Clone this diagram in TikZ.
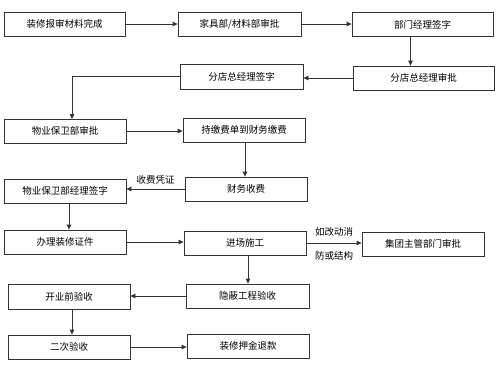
\documentclass[tikz,border=0pt]{standalone}
\usepackage{fontspec}
\setmainfont{Noto Sans CJK SC}
\usetikzlibrary{arrows.meta,calc}
\begin{document}
\begin{tikzpicture}[x=1pt,y=-1pt,
  box/.style={draw=black!80,line width=0.8pt,fill=white,minimum height=24pt,minimum width=122pt,inner sep=0pt,font=\fontsize{9.5}{11}\selectfont},
  arr/.style={draw=black!80,line width=0.8pt,-{Triangle[length=5pt,width=4.5pt]}},
  lbl/.style={inner sep=0pt,font=\fontsize{9.5}{11}\selectfont}]
\useasboundingbox (0,0) rectangle (500,375);
\node[box,minimum width=121pt] (b1) at (64.5,24) {装修报审材料完成};
\node[box,minimum width=123pt] (b2) at (239.5,24) {家具部/材料部审批};
\node[box,minimum width=141pt] (b3) at (422.5,24.5) {部门经理签字};
\node[box,minimum width=141pt] (b4) at (423.5,78) {分店总经理审批};
\node[box,minimum width=123pt,minimum height=25pt] (b5) at (241.5,76.5) {分店总经理签字};
\node[box] (b6) at (65,131) {物业保卫部审批};
\node[box] (b7) at (244,130) {持缴费单到财务缴费};
\node[box] (b8) at (246,189) {财务收费};
\node[box] (b9) at (65,191) {物业保卫部经理签字};
\node[box] (b10) at (65,242) {办理装修证件};
\node[box] (b11) at (245,243) {进场施工};
\node[box] (b12) at (423,244) {集团主管部门审批};
\node[box,minimum width=123pt] (b13) at (247.5,296) {隐蔽工程验收};
\node[box,minimum height=25pt] (b14) at (69,296.5) {开业前验收};
\node[box] (b15) at (69,347) {二次验收};
\node[box] (b16) at (248,346) {装修押金退款};
\coordinate (t6) at (72,119);
\draw[arr] (b1.east) -- (b1.east -| b2.west);
\draw[arr] (b2.east) -- (b2.east -| b3.west);
\draw[arr] ([xshift=-12pt]b3.south) -- ([xshift=-12pt]b3.south |- b4.north);
\draw[arr] (b4.west) -- (b4.west -| b5.east);
\draw[arr] (b5.west) -| (t6);
\draw[arr] (b6.east) -- (b6.east -| b7.west);
\draw[arr] ([xshift=1pt]b7.south) -- ([xshift=1pt]b7.south |- b8.north);
\draw[arr] (b8.west) -- (b8.west -| b9.east) node[lbl,midway,above=4pt] {收费凭证};
\draw[arr] ([xshift=4pt]b9.south) -- ([xshift=4pt]b9.south |- b10.north);
\draw[arr] (b10.east) -- (b10.east -| b11.west);
\draw[arr] (b11.east) -- (b11.east -| b12.west)
  node[lbl,midway,above=6pt] {如改动消}
  node[lbl,midway,below=8pt] {防或结构};
\draw[arr] ([xshift=3pt]b11.south) -- ([xshift=3pt]b11.south |- b13.north);
\draw[arr] (b13.west) -- (b13.west -| b14.east);
\draw[arr] ([xshift=3pt]b14.south) -- ([xshift=3pt]b14.south |- b15.north);
\draw[arr] (b15.east) -- (b15.east -| b16.west);
\end{tikzpicture}
\end{document}
